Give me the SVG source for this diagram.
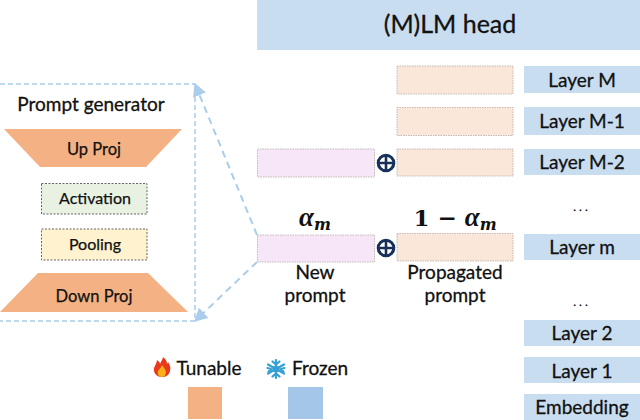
<svg xmlns="http://www.w3.org/2000/svg" width="640" height="420" viewBox="0 0 640 420">
<style>
text{font-family:"Lato","Open Sans","Liberation Sans",sans-serif;fill:#111;text-anchor:middle;font-size:19px;stroke:#111;stroke-width:.3px}
.lay{fill:#c9ddf0}
.org{fill:#fbe7da;stroke:#b5aca6;stroke-width:.8;stroke-dasharray:1.5 1}
.pnk{fill:#f7e6f8;stroke:#b5aca6;stroke-width:.8;stroke-dasharray:1.5 1}
.tr{fill:#f4b183}
.dash{fill:none;stroke:#a9cdea;stroke-width:2;stroke-dasharray:7 5}
.frame{fill:none;stroke:#a9cdea;stroke-width:1.5;stroke-dasharray:5 3}
.box{stroke:#666;stroke-width:1;stroke-dasharray:2 1.5}
.inner{font-size:16.500px;stroke-width:.25px}
.math{font-family:"DejaVu Serif","Liberation Serif",serif;font-weight:bold;font-size:23px;stroke-width:0}
.it{font-style:italic;font-family:"Liberation Serif",serif;font-size:27px}
.sub{font-size:16px;font-style:italic}
.dots{font-size:12px;letter-spacing:3px}
.plus circle{fill:none;stroke:#17305a;stroke-width:3}
.plus path{fill:none;stroke:#17305a;stroke-width:2.600}
</style>
<defs>
<marker id="ah" markerWidth="16" markerHeight="16" refX="12" refY="7" orient="auto" markerUnits="userSpaceOnUse"><path d="M0 0L13 7L0 14Z" fill="#a9cdea"/></marker>
</defs>
<g id="head"><rect class="lay" x="257" y="0" width="383" height="50"/><text x="450" y="33" style="font-size:25px">(M)LM head</text></g>
<g id="layer-M"><rect class="lay" x="524" y="66" width="116" height="27"/><text x="582" y="87">Layer M</text></g>
<g id="layer-M-1"><rect class="lay" x="524" y="107" width="116" height="28"/><text x="582" y="128">Layer M-1</text></g>
<g id="layer-M-2"><rect class="lay" x="524" y="149" width="116" height="26"/><text x="582" y="169">Layer M-2</text></g>
<g id="layer-m"><rect class="lay" x="524" y="234" width="116" height="26"/><text x="582" y="254">Layer m</text></g>
<g id="layer-2"><rect class="lay" x="524" y="320" width="116" height="26"/><text x="582" y="340">Layer 2</text></g>
<g id="layer-1"><rect class="lay" x="524" y="357" width="116" height="26"/><text x="582" y="378">Layer 1</text></g>
<g id="embedding"><rect class="lay" x="524" y="394" width="116" height="26"/><text x="582" y="414">Embedding</text></g>
<text class="dots" x="582" y="211">...</text>
<text class="dots" x="582" y="306">...</text>
<g id="propagated-boxes"><rect class="org" x="397" y="66" width="116" height="28"/><rect class="org" x="397" y="107.500" width="116" height="28"/><rect class="org" x="397" y="149" width="116" height="27"/><rect class="org" x="397" y="233.500" width="116" height="27.500"/></g>
<g id="new-prompts"><rect class="pnk" x="257.500" y="149" width="117" height="28"/><rect class="pnk" x="257.500" y="235" width="117" height="27"/></g>
<g id="plus-1" class="plus"><circle cx="386" cy="163" r="7.800"/><path d="M378.500 163H393.500M386 155.500V170.500"/></g>
<g id="plus-2" class="plus"><circle cx="386" cy="248" r="7.800"/><path d="M378.500 248H393.500M386 240.500V255.500"/></g>
<text class="math" x="315" y="226"><tspan class="it">α</tspan><tspan class="sub" dy="4">m</tspan></text>
<text class="math" x="455" y="226">1 − <tspan class="it">α</tspan><tspan class="sub" dy="4">m</tspan></text>
<g id="new-prompt-label"><text x="315" y="279">New</text><text x="315" y="302">prompt</text></g>
<g id="propagated-label"><text x="455" y="279">Propagated</text><text x="455" y="302">prompt</text></g>
<g id="connectors">
<path class="frame" d="M0 84H195V321H0"/>
<path class="dash" d="M257 235L195 84" marker-end="url(#ah)"/>
<path class="dash" d="M257 262L195 321" marker-end="url(#ah)"/>
</g>
<g id="prompt-generator"><text x="91" y="111">Prompt generator</text></g>
<g id="up-proj"><polygon class="tr" points="4,129 182,129 146,167 40,167"/><text class="inner" x="94" y="155">Up Proj</text></g>
<g id="activation"><rect class="box" x="41.500" y="183.500" width="105.500" height="30.500" fill="#e8f1e2"/><text class="inner" x="95" y="204" style="font-size:16px">Activation</text></g>
<g id="pooling"><rect class="box" x="41.500" y="229" width="105.500" height="31" fill="#fef2cf"/><text class="inner" x="95" y="250" style="font-size:16px">Pooling</text></g>
<g id="down-proj"><polygon class="tr" points="38,273 148,273 188,312 0,312"/><text class="inner" x="94" y="302">Down Proj</text></g>
<g id="tunable">
<path d="M162 377C156 377 153 372 154 368C155 365 157 363 157 360C159 361 160 363 160 364C161 361 163 359 163 357C166 359 167 362 167 364L168 362C170 365 171 368 170 371C169 375 166 377 162 377Z" fill="#e8391c"/>
<path d="M162 377C159 377 157 374 158 371C159 369 161 368 162 365C164 368 166 370 166 372C166 375 164 377 162 377Z" fill="#fbb018"/>
<text x="209" y="375">Tunable</text>
<rect x="188" y="387" width="34" height="32" fill="#f4b183"/>
</g>
<g id="frozen">
<g stroke="#35a0d2" stroke-width="2.200" fill="none" stroke-linecap="round"><path d="M276 360V378M268 364.500L284 373.500M268 373.500L284 364.500M272.500 361.500L276 364.500L279.500 361.500M272.500 376.500L276 373.500L279.500 376.500M267.500 368L271 369L268.500 372M284.500 368L281 369L283.500 372"/></g>
<circle cx="276" cy="369" r="3.500" fill="#35a0d2"/>
<text x="320" y="375">Frozen</text>
<rect x="288" y="387" width="35" height="32" fill="#a3c6e9"/>
</g>
</svg>
